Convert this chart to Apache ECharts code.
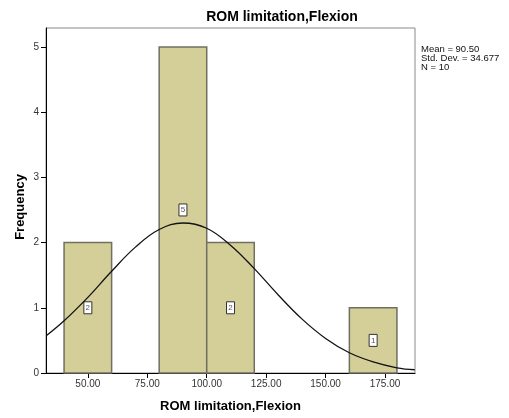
<!DOCTYPE html>
<html><head><meta charset="utf-8">
<script src="https://cdn.jsdelivr.net/npm/echarts@6/dist/echarts.min.js"></script>
<style>html,body{margin:0;padding:0;background:#fff}#c{width:509px;height:418px}</style>
</head><body><div id="c"></div>
<script>
var binStart = [40, 80, 100, 160];
var binEnd = [60, 100, 120, 180];
var counts = [2, 5, 2, 1];
var xTicks = [50, 75, 100, 125, 150, 175];
var curveX = [32.5, 40, 50, 60, 70, 80, 90, 100, 110, 120, 130, 140, 150, 160, 170, 180, 187.5];
var curveY = [0.57, 0.80, 1.16, 1.56, 1.93, 2.20, 2.30, 2.22, 1.96, 1.60, 1.20, 0.83, 0.53, 0.31, 0.17, 0.08, 0.05];
var statsLines = ['Mean = 90.50', 'Std. Dev. = 34.677', 'N = 10'];

var font = '"Liberation Sans", Arial, sans-serif';
var chart = echarts.init(document.getElementById('c'));
var barData = binStart.map(function (s, i) { return [s, binEnd[i], counts[i]]; });
var curveData = curveX.map(function (x, i) { return [x, curveY[i]]; });

chart.setOption({
  animation: false,
  title: {
    text: 'ROM limitation,Flexion', left: 277, top: 5, textAlign: 'center',
    textStyle: { fontFamily: font, fontSize: 14, fontWeight: 'bold', color: '#000' }
  },
  grid: { left: 46, right: 94, top: 28, bottom: 45, show: true, borderColor: '#8a8a8a', borderWidth: 1 },
  xAxis: {
    type: 'value', min: 32.4, max: 187.6,
    name: 'ROM limitation,Flexion', nameLocation: 'middle', nameGap: 27,
    nameTextStyle: { fontFamily: font, fontSize: 13, fontWeight: 'bold', color: '#000' },
    axisLine: { show: true, onZero: false, lineStyle: { color: '#000', width: 1 } },
    axisTick: { show: true, customValues: xTicks, length: 5, lineStyle: { color: '#000' } },
    axisLabel: { customValues: xTicks, fontFamily: font, fontSize: 10, color: '#333', margin: 6,
      formatter: function (v) { return v.toFixed(2); } },
    splitLine: { show: false }
  },
  yAxis: {
    type: 'value', min: 0, max: 5.29, interval: 1,
    axisLine: { show: true, lineStyle: { color: '#000', width: 1 } },
    axisTick: { show: true, length: 5, lineStyle: { color: '#000' } },
    axisLabel: { fontFamily: font, fontSize: 10, color: '#333', margin: 7, showMaxLabel: false },
    splitLine: { show: false }
  },
  graphic: [{
    type: 'text', left: 421, top: 44,
    style: { text: statsLines.join('\n'), font: '9.5px ' + font, fill: '#111', lineHeight: 9 }
  }, {
    type: 'text', x: 20, y: 207, rotation: Math.PI / 2,
    style: { text: 'Frequency', font: 'bold 13px ' + font, fill: '#000', align: 'center', verticalAlign: 'middle' }
  }],
  series: [{
    type: 'custom',
    data: barData,
    renderItem: function (params, api) {
      var p0 = api.coord([api.value(0), 0]);
      var p1 = api.coord([api.value(1), api.value(2)]);
      var pm = api.coord([(api.value(0) + api.value(1)) / 2, api.value(2) / 2]);
      return {
        type: 'group',
        children: [{
          type: 'rect',
          shape: { x: p0[0], y: p1[1], width: p1[0] - p0[0], height: p0[1] - p1[1] },
          style: { fill: '#d4cf98', stroke: '#6f6f62', lineWidth: 1.5 }
        }, {
          type: 'rect',
          shape: { x: pm[0] - 4, y: pm[1] - 6, width: 8, height: 12 },
          style: { fill: '#fff', stroke: '#333', lineWidth: 1 }
        }, {
          type: 'text',
          x: pm[0], y: pm[1],
          style: { text: String(api.value(2)), font: '8px ' + font, fill: '#555', align: 'center', verticalAlign: 'middle' }
        }]
      };
    },
    z: 2
  }, {
    type: 'line', data: curveData, smooth: 0.4, showSymbol: false,
    lineStyle: { color: '#111', width: 1.3 }, z: 3
  }]
});
</script></body></html>
